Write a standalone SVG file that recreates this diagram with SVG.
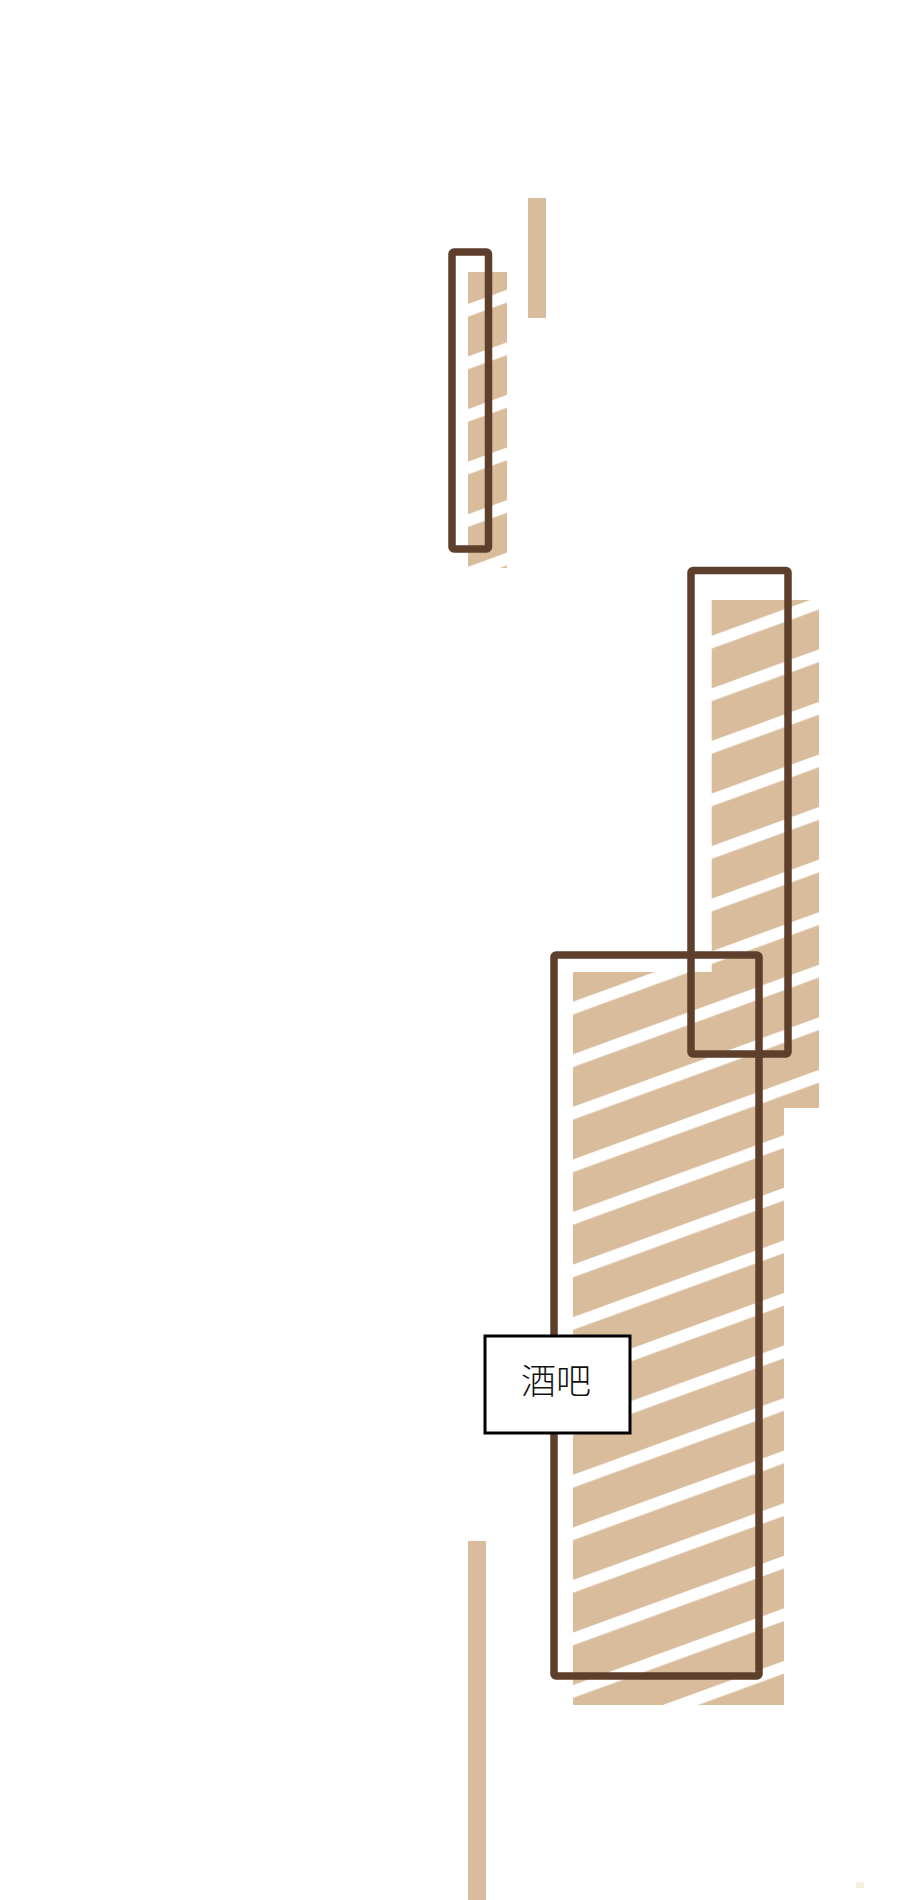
<svg xmlns="http://www.w3.org/2000/svg" width="900" height="1900" viewBox="0 0 900 1900">
  <defs>
    <pattern id="hatch" patternUnits="userSpaceOnUse" width="100" height="49.4" patternTransform="rotate(-20)">
      <rect x="0" y="13.1" width="100" height="37.4" fill="#D9BC9C"/>
      <rect x="0" y="-49.4" width="100" height="50.5" fill="#D9BC9C"/>
    </pattern>
    <style>
      .bar { fill: #D9BC9C; }
      .hatch { fill: url(#hatch); }
      .room { fill: none; stroke: #5E3F2C; stroke-width: 7.5; stroke-linejoin: round; }
      .label-box { fill: #FFFFFF; stroke: #000000; stroke-width: 3; }
      .label { font-family: "Noto Sans CJK SC", "Noto Sans", sans-serif; font-size: 35px; font-weight: 300; fill: #111111; text-anchor: middle; }
    </style>
  </defs>
  <rect x="0" y="0" width="900" height="1900" fill="#FFFFFF"/>

  <g id="bars">
    <rect class="bar" x="528" y="198" width="18" height="120"/>
    <rect class="bar" x="468" y="1541" width="18" height="359"/>
  </g>

  <g id="hatched-areas">
    <rect class="hatch" x="468" y="272" width="39" height="296"/>
    <path class="hatch" d="M711.7,600 H819 V1108 H784 V1705 H573 V972 H711.7 Z"/>
  </g>

  <g id="rooms">
    <rect id="room-small" class="room" x="452" y="252" width="36.5" height="297" rx="2"/>
    <rect id="room-upper" class="room" x="691" y="570.5" width="97" height="483.5" rx="2"/>
    <rect id="room-lower" class="room" x="554" y="955" width="205" height="721" rx="2"/>
  </g>

  <g id="node-bar">
    <rect class="label-box" x="485" y="1336" width="145" height="97"/>
    <text class="label" x="556" y="1394">酒吧</text>
  </g>

  <rect x="856" y="1882" width="8" height="6" fill="#F3E3C4" opacity="0.6"/>
</svg>
